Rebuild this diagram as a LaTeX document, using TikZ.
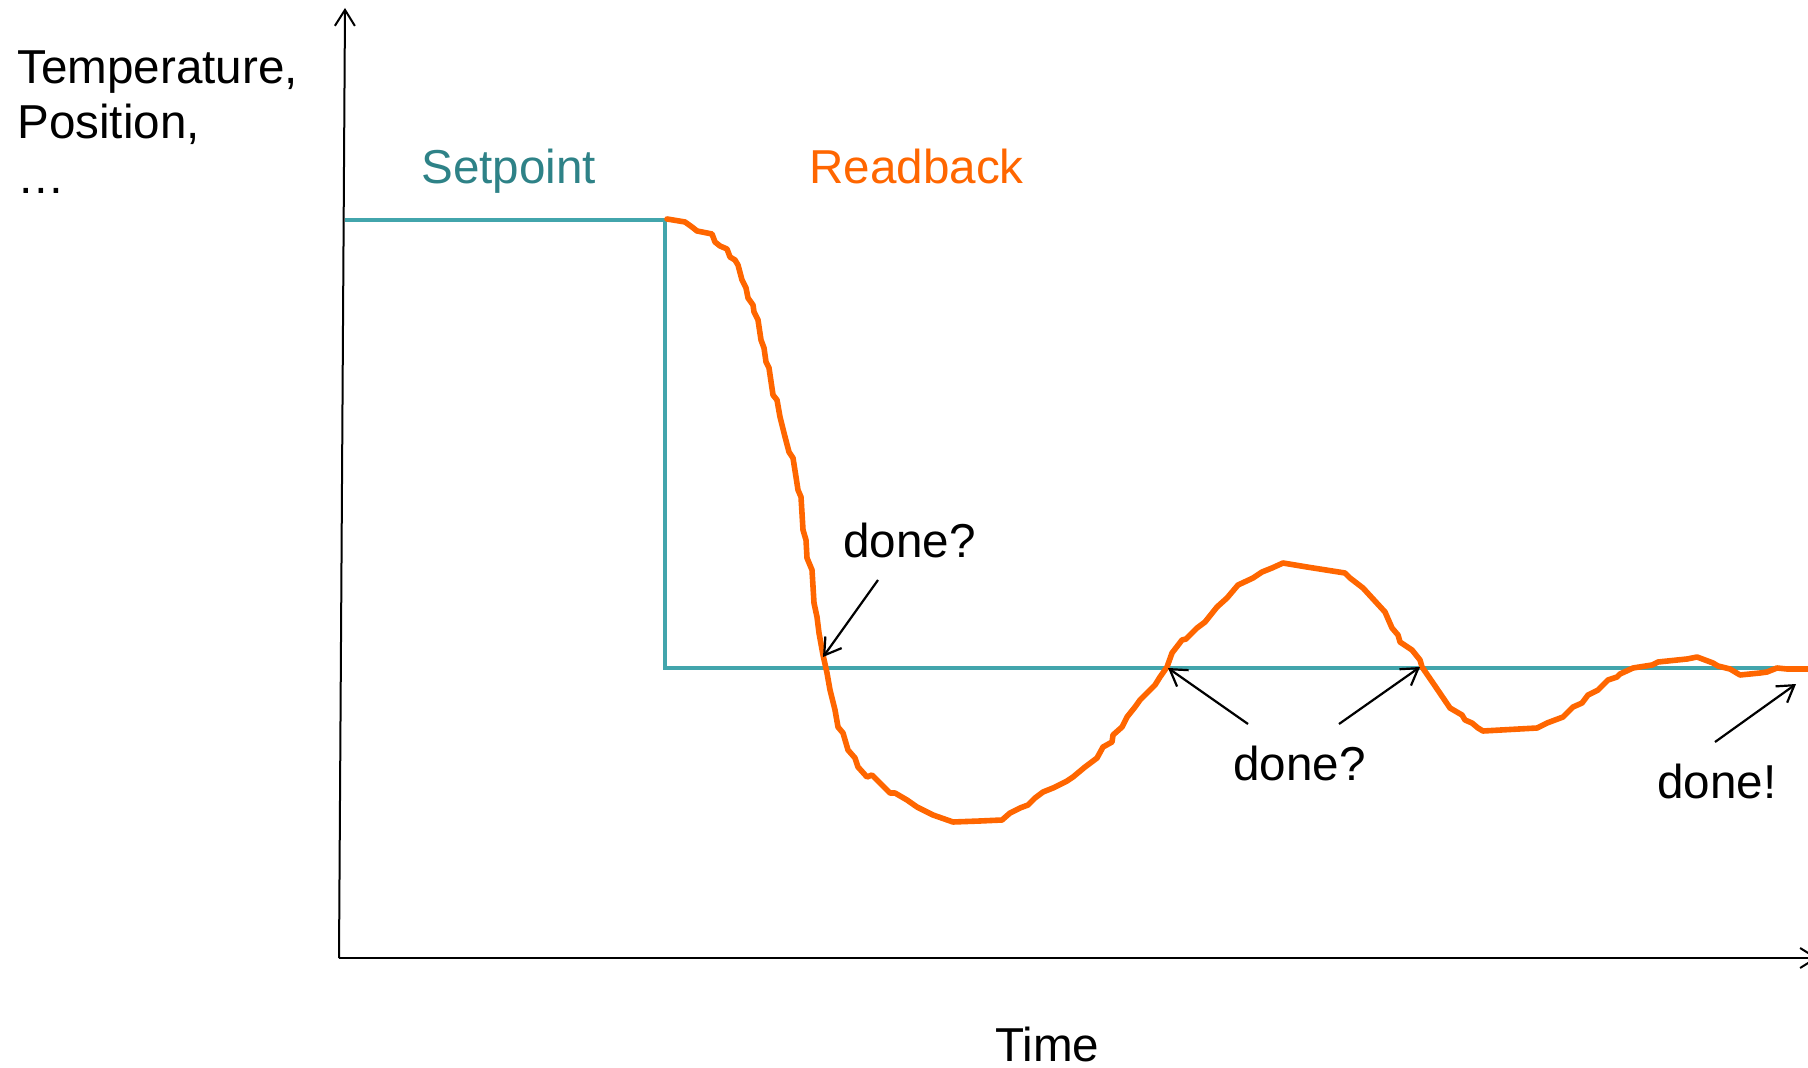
\documentclass[tikz,border=0pt]{standalone}
\usepackage{fontspec}
\setmainfont{Liberation Sans}
\usetikzlibrary{arrows.meta}
\definecolor{spline}{RGB}{66,165,172}
\definecolor{sptext}{RGB}{46,130,135}
\definecolor{rborange}{RGB}{255,102,0}
\tikzset{
  lbl/.style={anchor=base west,inner sep=0pt,font=\fontsize{23.8}{27.5}\selectfont},
  axis/.style={line width=1pt,-{Straight Barb[length=8pt,width=10pt]}},
  pointer/.style={line width=1.1pt,-{Straight Barb[length=8pt,width=10pt]}},
  setpt/.style={line width=2pt,color=spline},
  readbk/.style={line width=2.8pt,color=rborange,line join=round,line cap=round}
}
\begin{document}
\begin{tikzpicture}[x=0.5pt,y=-0.5pt]
\useasboundingbox (0,0) rectangle (1808,1068);
%\draw[step=100,gray](0,0) grid (1808,1068);
\begin{scope}
\clip (0,0) rectangle (1808,1068);
% axes
\coordinate (org) at (339,958);
\coordinate (ytop) at (345,8);
\coordinate (xend) at (1818,958);
\draw[axis] (org) -- (ytop);
\draw[axis] (org) -- (xend);
% setpoint step
\coordinate (s0) at (345,220);
\coordinate (s1) at (665,220);
\coordinate (s2) at (665,668);
\coordinate (s3) at (1808,668);
\draw[setpt] (s0) -- (s1) -- (s2) -- (s3);
% readback
\draw[readbk] plot coordinates {
 (667,219) (685,222) (692,227) (697,231) (712,234) (715,242) (720,246) (727,249)
 (730,257) (735,260) (738,265) (742,280) (746,288) (748,298) (753,305) (754,312)
 (758,320) (761,340) (764,348) (766,362) (769,368) (773,395) (777,400) (780,417)
 (784,433) (789,452) (793,458) (796,477) (798,490) (801,497) (803,530) (806,540)
 (807,558) (812,570) (814,603) (817,617) (819,633) (823,655) (827,673) (830,690)
 (835,710) (838,727) (843,733) (848,750) (855,758) (858,767) (867,777) (872,775)
 (880,783) (890,793) (895,793) (907,800) (917,807) (927,812) (933,815) (953,822)
 (980,821) (1002,820) (1010,813) (1020,808) (1028,805) (1035,798) (1043,792)
 (1053,788) (1067,781) (1073,777) (1085,767) (1097,758) (1103,747) (1112,742)
 (1113,735) (1122,727) (1127,717) (1135,707) (1140,700) (1145,695) (1155,685)
 (1160,677) (1167,667) (1172,653) (1182,640) (1186,639) (1197,628) (1205,622)
 (1217,607) (1227,598) (1238,585) (1253,578) (1262,572) (1272,568) (1283,563)
 (1307,567) (1345,573) (1350,578) (1363,588) (1385,612) (1392,628) (1398,635)
 (1400,642) (1412,650) (1420,660) (1422,667) (1433,683) (1450,708) (1462,715)
 (1465,720) (1472,723) (1478,728) (1483,731) (1537,728) (1547,723) (1563,717)
 (1573,707) (1582,703) (1588,695) (1598,690) (1608,680) (1617,677) (1620,674)
 (1633,668) (1652,665) (1658,662) (1687,659) (1697,657) (1713,663) (1718,666)
 (1730,669) (1740,675) (1760,673) (1767,672) (1777,668) (1787,669) (1808,669)};
\end{scope}
% labels
\node[lbl,align=left] (ylabel) at (17,194) {Temperature,\\Position,\\…};
\node[lbl] (xlabel) at (995,1061) {Time};
\node[lbl,text=sptext] (setp) at (421,184) {Setpoint};
\node[lbl,text=rborange] (rdbk) at (809,184) {Readback};
\node[lbl] (dq1) at (843,558) {done?};
\node[lbl] (dq2) at (1233,780) {done?};
\node[lbl] (dx) at (1657,798) {done!};
% pointers onto the crossings
\coordinate (t1) at (878,580);
\coordinate (c1) at (823,657);
\coordinate (t2) at (1248,724);
\coordinate (c2) at (1168,668);
\coordinate (t3) at (1339,724);
\coordinate (c3) at (1420,667);
\coordinate (t4) at (1715,742);
\coordinate (c4) at (1796,684);
\draw[pointer] (t1) -- (c1);
\draw[pointer] (t2) -- (c2);
\draw[pointer] (t3) -- (c3);
\draw[pointer] (t4) -- (c4);
\end{tikzpicture}
\end{document}
